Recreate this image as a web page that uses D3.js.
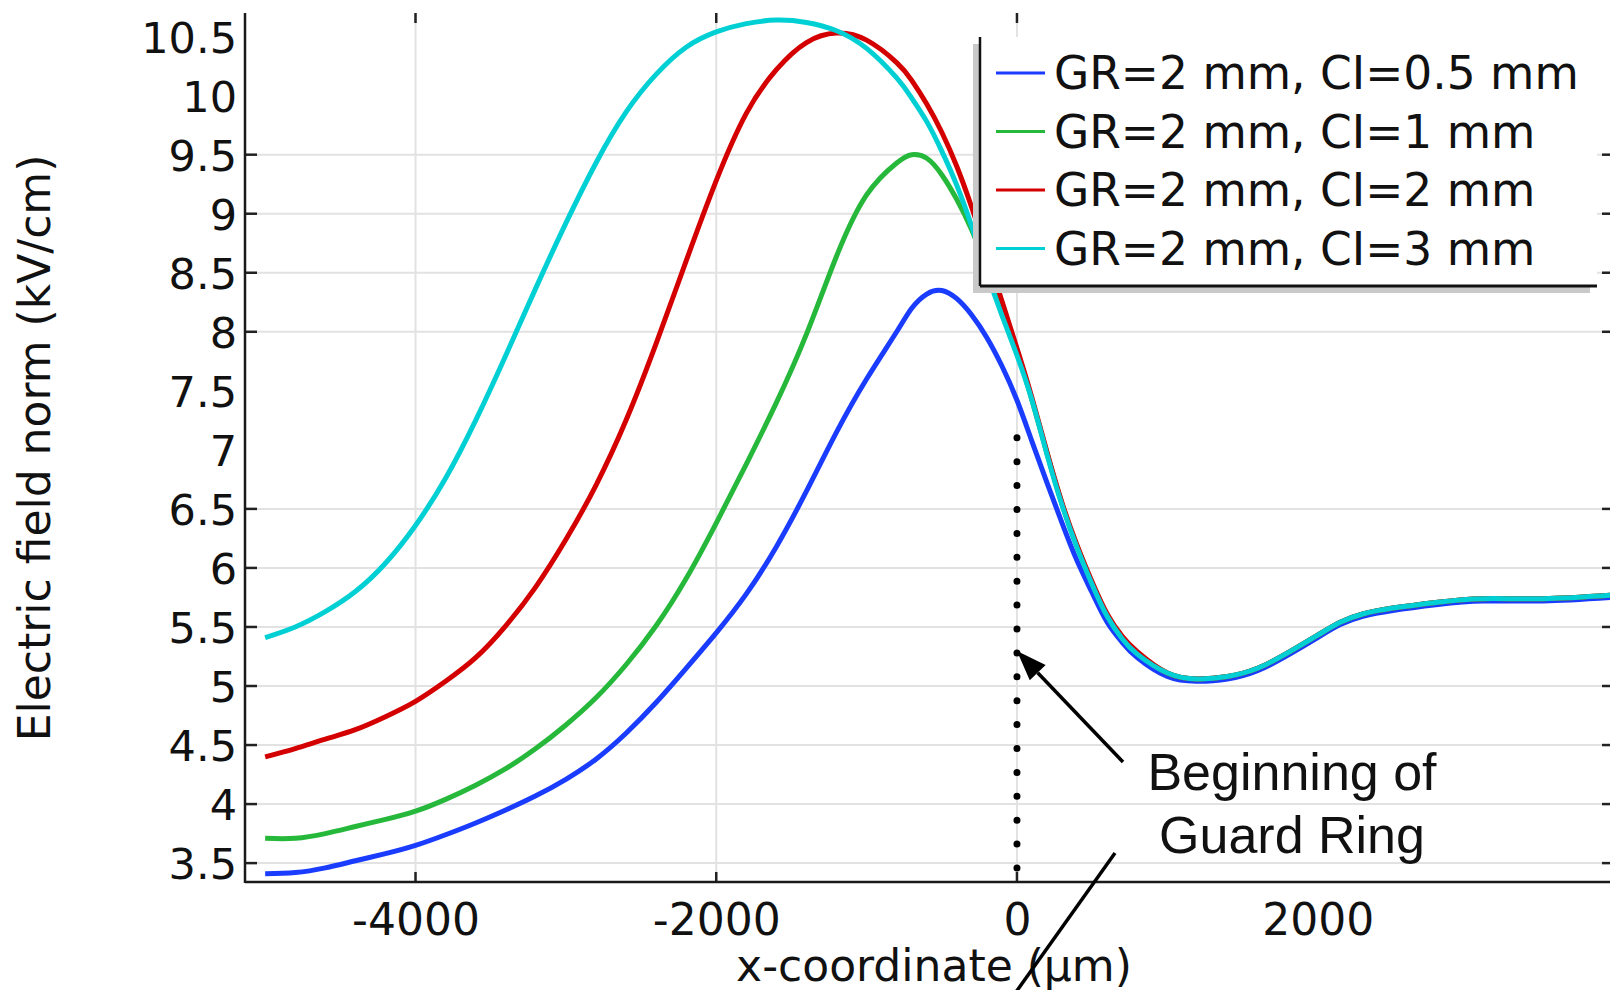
<!DOCTYPE html>
<html>
<head>
<meta charset="utf-8">
<script src="https://cdn.jsdelivr.net/npm/d3@7"></script>
<style>
  body { margin: 0; background: #fff; }
  svg { display: block; background: #fff; }
  text { font-family: "DejaVu Sans", sans-serif; fill: #111; }
</style>
</head>
<body>
<svg width="1610" height="990"></svg>
<script>
// ---- data (x in um, E in kV/cm) ----
const seriesNames = ["GR=2 mm, CI=0.5 mm", "GR=2 mm, CI=1 mm", "GR=2 mm, CI=2 mm", "GR=2 mm, CI=3 mm"];
const seriesColors = ["#1a3cff", "#26b83a", "#d40000", "#00d0d4"];

const xValues = [-5000,-4800,-4600,-4400,-4200,-4000,-3800,-3600,-3400,-3200,-3000,-2800,-2600,-2400,-2200,
  -2000,-1800,-1600,-1400,-1200,-1000,
  -800,-700,-600,-500,-400,-300,-200,-100,0,100,200,300,400,500,600,700,800,
  1000,1200,1400,1600,1800,2000,
  2150,2300,2500,2800,3100,3500,3950];

const ci05 = [3.41,3.42,3.46,3.52,3.58,3.65,3.74,3.84,3.95,4.07,4.21,4.38,4.60,4.86,5.15,5.45,5.78,6.18,6.65,7.15,7.60,
  8.00,8.20,8.32,8.35,8.28,8.14,7.95,7.71,7.42,7.07,6.72,6.38,6.06,5.79,5.54,5.37,5.24,
  5.08,5.04,5.06,5.13,5.26,5.41,
  5.52,5.59,5.64,5.69,5.72,5.72,5.75];

const ci1 = [3.71,3.71,3.75,3.81,3.87,3.94,4.04,4.16,4.30,4.47,4.67,4.90,5.18,5.51,5.91,6.38,6.88,7.40,7.98,8.64,9.16,
  9.43,9.50,9.47,9.33,9.12,8.86,8.54,8.20,7.84,7.42,6.97,6.54,6.18,5.87,5.60,5.41,5.28,
  5.11,5.06,5.08,5.15,5.28,5.43,
  5.54,5.61,5.66,5.71,5.74,5.74,5.77];

const ci2 = [4.40,4.47,4.55,4.63,4.74,4.87,5.04,5.24,5.51,5.84,6.24,6.70,7.25,7.90,8.60,9.28,9.85,10.22,10.45,10.53,10.47,
  10.28,10.13,9.93,9.69,9.40,9.05,8.66,8.26,7.86,7.44,6.98,6.55,6.19,5.88,5.61,5.42,5.29,
  5.11,5.06,5.08,5.15,5.28,5.43,
  5.54,5.61,5.66,5.71,5.74,5.74,5.77];

const ci3 = [5.41,5.50,5.63,5.80,6.04,6.36,6.76,7.25,7.80,8.37,8.92,9.43,9.86,10.18,10.41,10.54,10.61,10.64,10.62,10.55,10.40,
  10.15,9.98,9.78,9.53,9.24,8.89,8.50,8.14,7.80,7.42,6.96,6.53,6.17,5.86,5.59,5.40,5.27,
  5.11,5.06,5.08,5.15,5.28,5.43,
  5.54,5.61,5.66,5.71,5.74,5.74,5.77];

const yTickLabels = [3.5,4,4.5,5,5.5,6,6.5,7,7.5,8,8.5,9,9.5,10,10.5];
const yGridValues = [3.5,4,4.5,5,5.5,6,6.5,8,8.5,9,9.5];
const xTickLabels = [-4000,-2000,0,2000];
const xGridValues = [-4000,-2000,0];
const guardRingX = 0;

// ---- layout ----
const svg = d3.select('svg');
const plotL = 245, plotR = 1610, plotT = 13, plotB = 882;

const x = d3.scaleLinear().domain([-5134, 3944]).range([plotL, plotR]);
const y = d3.scaleLinear().domain([3.34, 10.70]).range([plotB, plotT]);

svg.append('defs').append('clipPath').attr('id', 'plot')
  .append('rect').attr('x', plotL).attr('y', plotT).attr('width', plotR - plotL).attr('height', plotB - plotT);

// grid
const grid = svg.append('g');
grid.selectAll('line.h').data(yGridValues).enter().append('line')
  .attr('x1', plotL).attr('x2', plotR)
  .attr('y1', d => y(d)).attr('y2', d => y(d))
  .attr('stroke', '#e2e2e2').attr('stroke-width', 2);
grid.selectAll('line.v').data(xGridValues).enter().append('line')
  .attr('x1', d => x(d)).attr('x2', d => x(d))
  .attr('y1', plotT).attr('y2', plotB)
  .attr('stroke', '#e2e2e2').attr('stroke-width', 2);

// inward tick marks
const ticks = svg.append('g').attr('stroke', '#222').attr('stroke-width', 2.5);
yGridValues.forEach(v => {
  ticks.append('line').attr('x1', plotL).attr('x2', plotL + 12).attr('y1', y(v)).attr('y2', y(v));
  ticks.append('line').attr('x1', plotR - 8).attr('x2', plotR).attr('y1', y(v)).attr('y2', y(v));
});
xGridValues.forEach(v => {
  ticks.append('line').attr('x1', x(v)).attr('x2', x(v)).attr('y1', plotB).attr('y2', plotB - 10);
  ticks.append('line').attr('x1', x(v)).attr('x2', x(v)).attr('y1', plotT).attr('y2', plotT + 10);
});

// curves
const line = d3.line().x((d, i) => x(xValues[i])).y(d => y(d)).curve(d3.curveNatural);
const allSeries = [ci05, ci1, ci2, ci3];
svg.append('g').attr('clip-path', 'url(#plot)')
  .selectAll('path').data(allSeries).enter().append('path')
  .attr('d', line)
  .attr('fill', 'none')
  .attr('stroke', (d, i) => seriesColors[i])
  .attr('stroke-width', 5)
  .attr('stroke-linejoin', 'round');

// axis lines
svg.append('line').attr('x1', plotL).attr('x2', plotL).attr('y1', plotT).attr('y2', plotB + 1)
  .attr('stroke', '#1a1a1a').attr('stroke-width', 2.5);
svg.append('line').attr('x1', plotL).attr('x2', plotR).attr('y1', plotB).attr('y2', plotB)
  .attr('stroke', '#1a1a1a').attr('stroke-width', 2.5);

// tick labels
const yAxis = svg.append('g').attr('transform', `translate(${plotL},0)`)
  .call(d3.axisLeft(y).tickValues(yTickLabels).tickSize(0).tickPadding(8).tickFormat(d => String(d)));
yAxis.select('.domain').remove();
yAxis.selectAll('text').attr('font-size', 43).attr('font-family', '"DejaVu Sans", sans-serif')
  .attr('fill', '#111').attr('dy', '0.36em');

const xAxis = svg.append('g').attr('transform', `translate(0,${plotB})`)
  .call(d3.axisBottom(x).tickValues(xTickLabels).tickSize(0).tickPadding(0).tickFormat(d => String(d)));
xAxis.select('.domain').remove();
xAxis.selectAll('text').attr('font-size', 44).attr('font-family', '"DejaVu Sans", sans-serif')
  .attr('fill', '#111').attr('y', 53).attr('dy', 0);

// axis titles
svg.append('text').attr('x', 934).attr('y', 981).attr('text-anchor', 'middle')
  .attr('font-size', 44).text('x-coordinate (µm)');
svg.append('text').attr('transform', 'translate(50,448) rotate(-90)').attr('text-anchor', 'middle')
  .attr('font-size', 44).text('Electric field norm (kV/cm)');

// legend
const lg = svg.append('g');
lg.append('rect').attr('x', 973).attr('y', 44).attr('width', 617).attr('height', 249).attr('fill', '#c9c9c9');
lg.append('rect').attr('x', 980).attr('y', 37).attr('width', 617).attr('height', 249).attr('fill', '#fff');
lg.append('line').attr('x1', 980).attr('x2', 980).attr('y1', 37).attr('y2', 286)
  .attr('stroke', '#111').attr('stroke-width', 2.5);
lg.append('line').attr('x1', 980).attr('x2', 1597).attr('y1', 286).attr('y2', 286)
  .attr('stroke', '#111').attr('stroke-width', 3);
const rows = lg.selectAll('g.row').data(seriesNames).enter().append('g')
  .attr('transform', (d, i) => `translate(0,${73 + i * 58.5})`);
rows.append('line').attr('x1', 996).attr('x2', 1045).attr('y1', 0).attr('y2', 0)
  .attr('stroke', (d, i) => seriesColors[i]).attr('stroke-width', 3);
rows.append('text').attr('x', 1054).attr('y', 0).attr('dy', '0.36em')
  .attr('font-size', 45.5).text(d => d);

// guard ring marker: dotted line at x = 0
const dotBottom = 868, dotStep = 23.9, dotCount = 19;
svg.append('line')
  .attr('x1', x(guardRingX)).attr('x2', x(guardRingX))
  .attr('y1', dotBottom - dotStep * (dotCount - 1)).attr('y2', dotBottom + 0.1)
  .attr('stroke', '#000').attr('stroke-width', 7)
  .attr('stroke-linecap', 'round').attr('stroke-dasharray', `0 ${dotStep}`);

// annotation
const ann = svg.append('g');
ann.append('text').attr('x', 1292).attr('y', 790).attr('text-anchor', 'middle')
  .style('font-family', '"Liberation Sans", Arial, sans-serif').attr('font-size', 52).text('Beginning of');
ann.append('text').attr('x', 1292).attr('y', 853).attr('text-anchor', 'middle')
  .style('font-family', '"Liberation Sans", Arial, sans-serif').attr('font-size', 52).text('Guard Ring');

const tipX = x(guardRingX), tipY = 651;
const tailX = 1123, tailY = 762;
const ang = Math.atan2(tailY - tipY, tailX - tipX);
const headLen = 30, headW = 11;
const bx = tipX + headLen * Math.cos(ang), by = tipY + headLen * Math.sin(ang);
ann.append('line').attr('x1', tailX).attr('y1', tailY).attr('x2', bx).attr('y2', by)
  .attr('stroke', '#000').attr('stroke-width', 3.5);
ann.append('path')
  .attr('d', `M${tipX},${tipY} L${bx - headW * Math.sin(ang)},${by + headW * Math.cos(ang)} L${bx + headW * Math.sin(ang)},${by - headW * Math.cos(ang)} Z`)
  .attr('fill', '#000');
ann.append('line').attr('x1', 1115).attr('y1', 853).attr('x2', 1016).attr('y2', 992)
  .attr('stroke', '#000').attr('stroke-width', 3.5);
</script>
</body>
</html>
